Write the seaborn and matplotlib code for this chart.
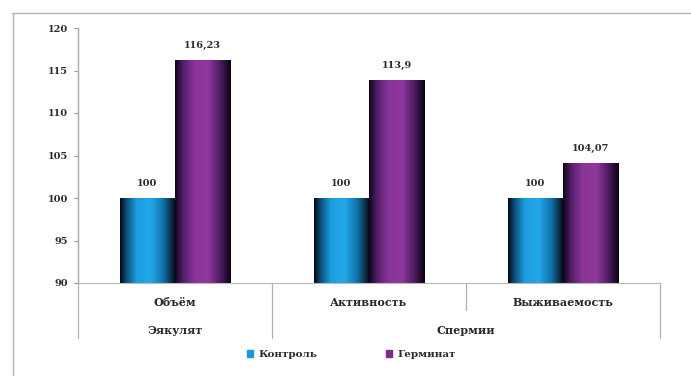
import matplotlib
matplotlib.use("Agg")
import matplotlib.pyplot as plt
import matplotlib.lines as mlines
from matplotlib.colors import LinearSegmentedColormap
import numpy as np
import pandas as pd
import seaborn as sns

# Data
categories = ["Объём", "Активность", "Выживаемость"]
groups = ["Эякулят", "Спермии"]
series = ["Контроль", "Герминат"]
control = [100, 100, 100]
germinat = [116.23, 113.9, 104.07]
value_labels_control = ["100", "100", "100"]
value_labels_germinat = ["116,23", "113,9", "104,07"]
yticks = [90, 95, 100, 105, 110, 115, 120]

df = pd.DataFrame({
    "cat": categories * 2,
    "series": [series[0]] * 3 + [series[1]] * 3,
    "value": control + germinat,
})

sns.set_theme(style="white")
plt.rcParams["font.family"] = ["DejaVu Serif"]
plt.rcParams["font.weight"] = "bold"

base_colors = {"Контроль": "#1a9ad8", "Герминат": "#7d2a8c"}
text_color = "#2a2a2a"
y_min, y_max = 90, 120

fig = plt.figure(figsize=(6.91, 3.76), dpi=100)
ax = fig.add_axes([78 / 691, 1 - 283 / 376, (660 - 78) / 691, (283 - 28) / 376])

sns.barplot(data=df, x="cat", y="value", hue="series", hue_order=series,
            order=categories, palette=base_colors, width=0.57,
            saturation=1, ax=ax, legend=False, edgecolor="none")

ax.set_ylim(y_min, y_max)
ax.set_xlim(-0.5, 2.5)
ax.set_yticks(yticks)
ax.set_yticklabels([str(t) for t in yticks], fontsize=7, fontweight="bold",
                   color=text_color)
ax.set_xticks([])
ax.set_xlabel("")
ax.set_ylabel("")
ax.tick_params(axis="y", length=3, width=0.8, color="#9a9a9a", pad=4, left=True)

for s in ["top", "right"]:
    ax.spines[s].set_visible(False)
ax.spines["left"].set_color("#a8a8a8")
ax.spines["bottom"].set_color("#b8b8b8")
ax.spines["left"].set_linewidth(1.0)
ax.spines["bottom"].set_linewidth(0.8)

# Cylinder-like shading for each bar
cmaps = {
    "Контроль": LinearSegmentedColormap.from_list("c", [
        (0.0, "#020814"), (0.12, "#0d4f7a"), (0.3, "#1c9ee0"),
        (0.55, "#22a8ea"), (0.78, "#1170a8"), (1.0, "#03070c")]),
    "Герминат": LinearSegmentedColormap.from_list("g", [
        (0.0, "#10041a"), (0.15, "#54206a"), (0.35, "#8a3498"),
        (0.6, "#8e389c"), (0.82, "#4a1a5c"), (1.0, "#0a0312")]),
}
grad = np.linspace(0, 1, 256).reshape(1, -1)
patches = [p for p in ax.patches if p.get_height() > 0]
patches.sort(key=lambda p: p.get_x())
for i, p in enumerate(patches):
    name = series[i % 2]
    x0, w = p.get_x(), p.get_width()
    top = p.get_y() + p.get_height()
    bottom = max(p.get_y(), y_min)
    im = ax.imshow(grad, extent=[x0, x0 + w, bottom, top], aspect="auto",
                   cmap=cmaps[name], zorder=p.get_zorder() + 0.1,
                   interpolation="bilinear")
    im.set_clip_path(p)

ax.set_xlim(-0.5, 2.5)
ax.set_ylim(y_min, y_max)

# Value labels above bars
labels = []
for k in range(3):
    labels.append(value_labels_control[k])
    labels.append(value_labels_germinat[k])
for p, lab in zip(patches, labels):
    ax.text(p.get_x() + p.get_width() / 2, p.get_y() + p.get_height() + 1.2,
            lab, ha="center", va="bottom", fontsize=7, fontweight="bold",
            color=text_color)

# Two-level category axis
trans = ax.get_xaxis_transform()
for k, c in enumerate(categories):
    ax.text(k, -0.075, c, transform=trans, ha="center", va="center",
            fontsize=8, fontweight="bold", color=text_color)
ax.text(0, -0.185, groups[0], transform=trans, ha="center", va="center",
        fontsize=8, fontweight="bold", color=text_color)
ax.text(1.5, -0.185, groups[1], transform=trans, ha="center", va="center",
        fontsize=8, fontweight="bold", color=text_color)

sep_color = "#b0b0b0"
for xv, depth in [(-0.5, 0.216), (0.5, 0.216), (1.5, 0.106), (2.5, 0.216)]:
    ax.add_line(mlines.Line2D([xv, xv], [0, -depth], transform=trans,
                              color=sep_color, lw=0.9, clip_on=False))

# Legend
handles = [plt.Rectangle((0, 0), 1, 1, color=base_colors[s]) for s in series]
leg = fig.legend(handles, series, loc="center", bbox_to_anchor=(0.508, 0.056),
                 ncol=2, frameon=False, handlelength=0.6,
                 handleheight=0.6, columnspacing=6.6, handletextpad=0.5,
                 prop={"weight": "bold", "size": 7.5})
for t in leg.get_texts():
    t.set_color(text_color)

# Outer chart frame
fig.add_artist(mlines.Line2D([12 / 691, 1.0], [1 - 13 / 376, 1 - 13 / 376],
                             transform=fig.transFigure, color="#b5b5b5", lw=1.0))
fig.add_artist(mlines.Line2D([13 / 691, 13 / 691], [0.0, 1 - 13 / 376],
                             transform=fig.transFigure, color="#b5b5b5", lw=1.0))

fig.savefig("out.png", dpi=100, facecolor="white")
